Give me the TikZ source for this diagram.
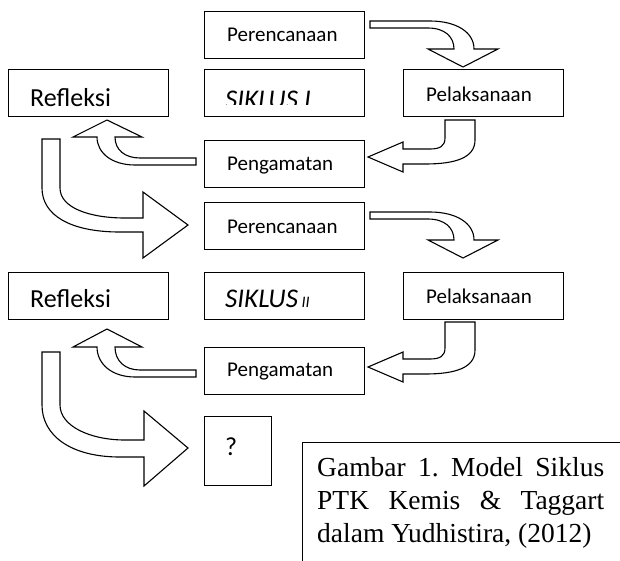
\documentclass[tikz,border=0pt]{standalone}
\usepackage{fontspec}
\setmainfont{Liberation Serif}
\newfontfamily\calibri{Carlito}
\frenchspacing
\begin{document}
\begin{tikzpicture}[x=1pt,y=-1pt,
  box/.style={draw=black, line width=1.4pt, fill=white, anchor=north west, inner sep=0pt, minimum width=160pt, minimum height=47pt},
  lbl/.style={anchor=base west, inner sep=0pt, font=\calibri\fontsize{21}{25}\selectfont},
  biglbl/.style={anchor=base west, inner sep=0pt, font=\calibri\fontsize{26}{30}\selectfont},
  siklbl/.style={anchor=base west, inner sep=0pt, font=\calibri\itshape\fontsize{27}{30}\selectfont},
  caplbl/.style={anchor=base west, inner sep=0pt, font=\fontsize{27.5}{33}\selectfont},
  barrow/.style={draw=black, line width=1.1pt, fill=white, line join=miter}]
\useasboundingbox (0,0) rectangle (620,560);
\fill[white] (0,0) rectangle (620,560);
\clip (0,0) rectangle (620,560);

% ---- cycle I boxes
\node[box] (p1) at (204,11) {};
\node[box] (r1) at (8,69) {};
\node[box] (s1) at (204,69) {};
\node[box] (l1) at (403,69) {};
\node[box] (g1) at (204,140) {};
% ---- cycle II boxes
\node[box] (p2) at (204,202) {};
\node[box] (r2) at (8,272) {};
\node[box] (s2) at (204,272) {};
\node[box] (l2) at (403,272) {};
\node[box] (g2) at (204,347) {};
\node[box, minimum width=67pt, minimum height=69pt] (q) at (204,416) {};
\node[draw=black, line width=1.1pt, fill=white, anchor=north west, inner sep=0pt,
      minimum width=340pt, minimum height=140pt] (cap) at (302,442) {};

% ---- labels
\node[lbl] (p1t) at (227,41) {Perencanaan};
\node[biglbl] (r1t) at (30,106) {Refleksi};
\begin{scope}
  \clip (204,69) rectangle (364,104);
  \node[siklbl] (s1t) at (225,108) {SIKLUS I};
\end{scope}
\node[lbl] (l1t) at (426,101) {Pelaksanaan};
\node[lbl] (g1t) at (227,170) {Pengamatan};

\node[lbl] (p2t) at (227,233) {Perencanaan};
\node[biglbl] (r2t) at (30,307) {Refleksi};
\node[siklbl] (s2t) at (225,307) {SIKLUS{\fontsize{16}{18}\selectfont{} II}};
\node[lbl] (l2t) at (426,303) {Pelaksanaan};
\node[lbl] (g2t) at (227,376) {Pengamatan};
\node[biglbl] (qt) at (225,455) {?};

\node[caplbl] (cap1) at (317,476) {\makebox[287pt][s]{Gambar 1. Model Siklus}};
\node[caplbl] (cap2) at (317,509) {\makebox[287pt][s]{PTK Kemis \& Taggart}};
\node[caplbl] (cap3) at (317,542) {dalam Yudhistira, (2012)};

% ---- block arrows, cycle I
\draw[barrow] (370,21) -- (430,21) .. controls (456,21) and (474,32) .. (474,49)
  -- (498,49) -- (463,67) -- (428,49) -- (454,49)
  .. controls (454,37) and (445,28) .. (428,28) -- (370,28) -- cycle;
\draw[barrow] (445,120) -- (475,120) -- (475,140)
  .. controls (475,158) and (455,164) .. (425,164) -- (403,164) -- (403,172)
  -- (368,157) -- (403,142) -- (403,149) -- (430,149)
  .. controls (440,149) and (445,146) .. (445,138) -- cycle;
\draw[barrow] (196,158) -- (196,165) -- (135,165)
  .. controls (112,165) and (97,153) .. (97,137) -- (73,137) -- (107,120)
  -- (142,137) -- (115,137) .. controls (115,150) and (125,158) .. (140,158) -- cycle;
\draw[barrow] (42,139) -- (60,139) -- (60,188)
  .. controls (60,208) and (90,218) .. (125,218) -- (143,218) -- (143,192)
  -- (188,225) -- (143,258) -- (143,232) -- (120,232)
  .. controls (70,232) and (42,215) .. (42,188) -- cycle;

% ---- block arrows, cycle II
\draw[barrow] (370,212) -- (430,212) .. controls (456,212) and (474,223) .. (474,240)
  -- (498,240) -- (463,258) -- (428,240) -- (454,240)
  .. controls (454,228) and (445,219) .. (428,219) -- (370,219) -- cycle;
\draw[barrow] (445,322) -- (475,322) -- (475,350)
  .. controls (475,368) and (455,374) .. (425,374) -- (403,374) -- (403,382)
  -- (368,367) -- (403,352) -- (403,359) -- (430,359)
  .. controls (440,359) and (445,356) .. (445,348) -- cycle;
\draw[barrow] (196,370) -- (196,377) -- (135,377)
  .. controls (112,377) and (97,364) .. (97,347) -- (73,347) -- (107,329)
  -- (142,347) -- (115,347) .. controls (115,361) and (125,370) .. (140,370) -- cycle;
\draw[barrow] (42,352) -- (60,352) -- (60,405)
  .. controls (60,426) and (90,440) .. (125,440) -- (144,440) -- (144,411)
  -- (188,448) -- (144,486) -- (144,457) -- (120,457)
  .. controls (70,457) and (42,435) .. (42,405) -- cycle;
\end{tikzpicture}
\end{document}
